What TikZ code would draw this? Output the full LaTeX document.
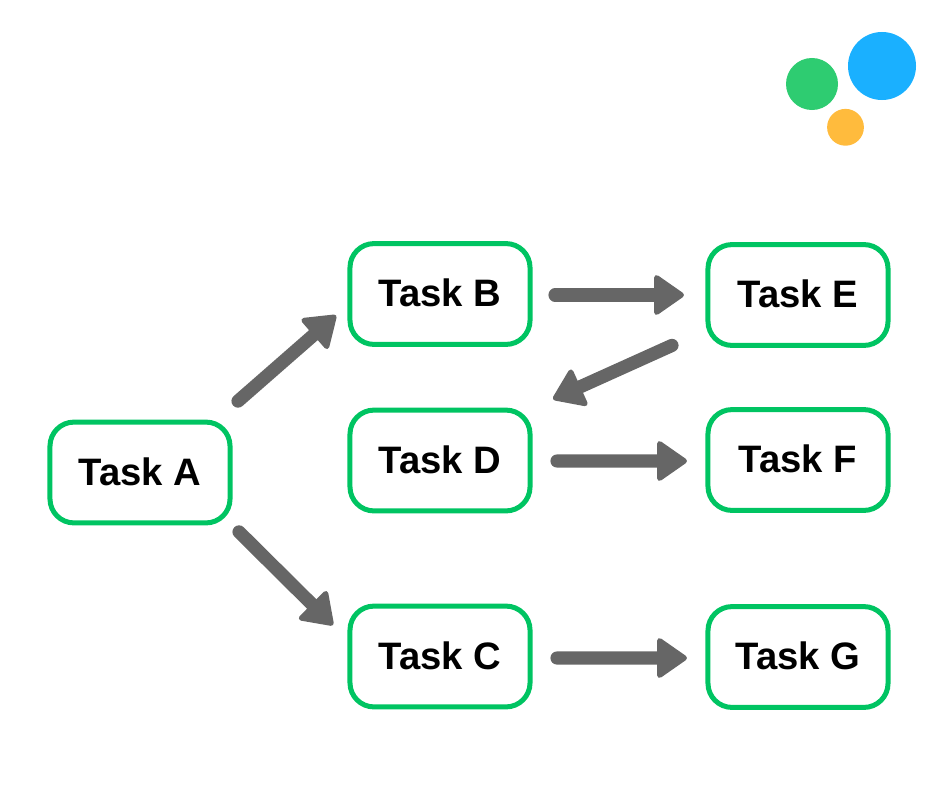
\documentclass[tikz,border=0pt]{standalone}
\usepackage{fontspec}
\setmainfont{Liberation Sans}
\usetikzlibrary{arrows.meta}
\definecolor{taskgreen}{RGB}{0,196,98}
\definecolor{flowgray}{RGB}{102,102,102}
\definecolor{dotblue}{RGB}{26,176,255}
\definecolor{dotgreen}{RGB}{46,204,113}
\definecolor{dotyellow}{RGB}{255,187,61}
\tikzset{
    taskbox/.style={draw=taskgreen, line width=0.125cm, rounded corners=0.6cm, outer sep=0pt,
        minimum width=4.5cm, minimum height=2.52cm, text depth=0.05cm, font=\fontsize{27.2}{30}\selectfont\bfseries},
    flow/.style={draw=flowgray, line width=0.33cm, line cap=round,
        -{Triangle[length=0.8cm, width=1.08cm, round, line width=0.13cm, fill=flowgray]}}
}

\begin{document}
\begin{tikzpicture}[x=0.025cm, y=-0.025cm]
    \useasboundingbox (0,0) rectangle (940,788);
    % logo
    \fill[dotblue] (882,66) circle (0.85cm);
    \fill[dotgreen] (812,84) circle (0.65cm);
    \fill[dotyellow] (845.5,127.3) circle (0.46cm);
    % tasks
    \node[taskbox] (taskA) at (140,472.5) {Task A};
    \node[taskbox] (taskB) at (440,294) {Task B};
    \node[taskbox] (taskD) at (440,460.5) {Task D};
    \node[taskbox] (taskC) at (440,656.5) {Task C};
    \node[taskbox] (taskE) at (798,295) {Task E};
    \node[taskbox] (taskF) at (798,460) {Task F};
    \node[taskbox] (taskG) at (798,657) {Task G};
    % arrows
    \draw[flow] ([shift={(8,-21)}]taskA.north east) -- ([shift={(-14,-29)}]taskB.south west);
    \draw[flow] ([shift={(9,9)}]taskA.south east) -- ([shift={(-17,19)}]taskC.north west);
    \draw[flow] ([shift={(-36,0)}]taskE.south west) -- ([shift={(23,-11)}]taskD.north east);
    \draw[flow] ([shift={(25,1)}]taskB.east) -- ([shift={(-24,0)}]taskE.west);
    \draw[flow] ([shift={(27,0.5)}]taskD.east) -- ([shift={(-21,1)}]taskF.west);
    \draw[flow] ([shift={(27,1.5)}]taskC.east) -- ([shift={(-21,1)}]taskG.west);
\end{tikzpicture}
\end{document}
